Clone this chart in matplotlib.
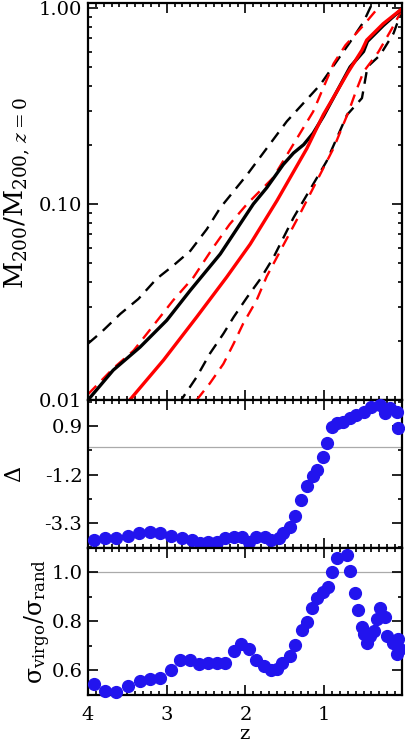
import numpy as np
import matplotlib
matplotlib.use('Agg')
import matplotlib.pyplot as plt
from matplotlib.ticker import FixedLocator, MultipleLocator, FuncFormatter, NullFormatter

plt.rcParams['font.family'] = ['DejaVu Serif']
plt.rcParams['mathtext.fontset'] = 'dejavuserif'
plt.rcParams['font.size'] = 14

# --- top panel: mass growth histories (z, M200/M200,z=0) ---
z_blk = [4.0, 3.68, 3.34, 3.0, 2.70, 2.32, 1.90, 1.73, 1.52, 1.39, 1.26, 1.14, 1.01, 0.67, 0.50, 0.45, 0.25, 0.0]
m_blk = [0.0100, 0.0142, 0.0186, 0.0255, 0.0363, 0.0556, 0.100, 0.121, 0.159, 0.182, 0.201, 0.230, 0.280, 0.501, 0.600, 0.676, 0.813, 1.0]

z_red = [3.47, 3.04, 2.62, 2.24, 1.94, 1.60, 1.22, 1.01, 0.925, 0.70, 0.52, 0.46, 0.25, 0.0]
m_red = [0.0100, 0.0160, 0.0265, 0.0423, 0.0624, 0.104, 0.192, 0.286, 0.327, 0.468, 0.610, 0.686, 0.832, 1.0]

z_blk_hi = [4.0, 3.83, 3.59, 3.36, 3.13, 2.92, 2.70, 2.49, 2.32, 1.98, 1.475, 1.05, 0.67, 0.50, 0.40]
m_blk_hi = [0.0194, 0.0222, 0.0275, 0.0328, 0.0415, 0.0484, 0.0577, 0.0745, 0.0957, 0.141, 0.264, 0.406, 0.671, 0.849, 1.035]

z_red_hi = [4.0, 3.68, 3.42, 3.17, 2.92, 2.66, 2.41, 2.20, 1.98, 1.65, 1.14, 0.88, 0.73, 0.50, 0.29]
m_red_hi = [0.0107, 0.0145, 0.0179, 0.0240, 0.0322, 0.0423, 0.0600, 0.0789, 0.100, 0.136, 0.296, 0.521, 0.646, 0.817, 1.03]

z_blk_lo = [2.85, 2.62, 2.45, 2.28, 2.15, 1.98, 1.81, 1.645, 1.39, 0.97, 0.71, 0.52, 0.45, 0.29, 0.12, 0.0]
m_blk_lo = [0.00955, 0.0131, 0.0173, 0.0218, 0.0265, 0.0334, 0.0415, 0.0533, 0.0851, 0.165, 0.285, 0.347, 0.501, 0.575, 0.741, 1.0]

z_red_lo = [2.62, 2.45, 2.28, 2.15, 2.03, 1.86, 1.73, 1.31, 0.88, 0.69, 0.59, 0.50, 0.31, 0.14, 0.0]
m_red_lo = [0.0100, 0.0122, 0.0153, 0.0194, 0.0245, 0.0322, 0.0427, 0.0887, 0.193, 0.296, 0.382, 0.473, 0.598, 0.785, 1.0]

# --- middle panel: Delta ---
z_delta = [3.93, 3.78, 3.64, 3.49, 3.35, 3.21, 3.08, 2.95, 2.81, 2.68, 2.58, 2.47, 2.36, 2.26,
           2.15, 2.05, 1.96, 1.86, 1.75, 1.67, 1.58, 1.52, 1.44, 1.37, 1.29, 1.22, 1.14, 1.09,
           1.02, 0.96, 0.90, 0.84, 0.76, 0.67, 0.59, 0.50, 0.40, 0.29, 0.23, 0.16, 0.08, 0.06]
delta = [-4.04, -3.96, -3.96, -3.86, -3.75, -3.68, -3.72, -3.86, -3.96, -4.04, -4.18, -4.11, -4.11, -3.96,
         -3.89, -3.89, -4.13, -3.89, -3.92, -4.04, -3.96, -3.75, -3.46, -3.00, -2.30, -1.70, -1.27, -1.00,
         -0.43, 0.18, 0.85, 1.05, 1.09, 1.23, 1.38, 1.52, 1.74, 1.81, 1.45, 1.67, 1.52, 0.80]

# --- bottom panel: sigma ratio ---
z_sig = [3.92, 3.78, 3.64, 3.49, 3.34, 3.21, 3.08, 2.95, 2.83, 2.70, 2.59, 2.47, 2.36, 2.26,
         2.15, 2.06, 1.95, 1.86, 1.76, 1.68, 1.60, 1.53, 1.43, 1.37, 1.28, 1.22, 1.15, 1.09,
         1.01, 0.95, 0.90, 0.84, 0.71, 0.67, 0.61, 0.57, 0.52, 0.50, 0.46, 0.42, 0.37, 0.33,
         0.29, 0.23, 0.20, 0.12, 0.08, 0.06, 0.04]
sig = [0.543, 0.516, 0.512, 0.536, 0.557, 0.566, 0.570, 0.601, 0.642, 0.642, 0.625, 0.632, 0.629, 0.632,
       0.679, 0.710, 0.686, 0.642, 0.618, 0.601, 0.607, 0.632, 0.659, 0.706, 0.765, 0.797, 0.855, 0.897,
       0.920, 0.940, 1.000, 1.060, 1.073, 1.005, 0.918, 0.847, 0.779, 0.748, 0.714, 0.740, 0.762, 0.812,
       0.853, 0.820, 0.741, 0.714, 0.666, 0.727, 0.686]

blue = '#2214ee'

fig = plt.figure(figsize=(4.05, 7.48), dpi=100)
L, W = 0.2173, 0.7746
ax1 = fig.add_axes([L, 0.4652, W, 0.5307])
ax2 = fig.add_axes([L, 0.2674, W, 0.1979])
ax3 = fig.add_axes([L, 0.0709, W, 0.1965])

dash = (0, (5, 3.3))
ax1.plot(z_blk_hi, m_blk_hi, color='k', lw=1.7, ls=dash)
ax1.plot(z_blk_lo, m_blk_lo, color='k', lw=1.7, ls=dash)
ax1.plot(z_red_hi, m_red_hi, color='#ff0000', lw=1.7, ls=dash)
ax1.plot(z_red_lo, m_red_lo, color='#ff0000', lw=1.7, ls=dash)
ax1.plot(z_blk, m_blk, color='k', lw=2.4)
ax1.plot(z_red, m_red, color='#ff0000', lw=2.4)
ax1.set_yscale('log')
ax1.set_ylim(0.01, 1.06)
ax1.yaxis.set_major_locator(FixedLocator([0.01, 0.1, 1.0]))
ax1.yaxis.set_major_formatter(FuncFormatter(lambda v, p: '%.2f' % v))
ax1.yaxis.set_minor_locator(FixedLocator([k * 10.0**e for e in (-2, -1) for k in range(2, 10)]))
ax1.yaxis.set_minor_formatter(NullFormatter())
ax1.set_ylabel('M$_{200}$/M$_{200,\\,z=0}$', fontsize=19)
ax1.yaxis.set_label_coords(-0.18, 0.52)

ax2.axhline(0.0, color='#aaaaaa', lw=0.9, zorder=1)
ax2.plot(z_delta, delta, 'o', color=blue, ms=8.5, mec=blue, clip_on=False, zorder=5)
ax2.set_ylim(-4.38, 2.03)
ax2.yaxis.set_major_locator(FixedLocator([-3.3, -1.2, 0.9]))
ax2.yaxis.set_minor_locator(FixedLocator([-4.35, -2.25, -0.15, 1.95]))
ax2.yaxis.set_major_formatter(FuncFormatter(lambda v, p: '%.1f' % v))
ax2.set_ylabel('Δ', fontsize=16)
ax2.yaxis.set_label_coords(-0.2, 0.5)

ax3.axhline(1.0, color='#aaaaaa', lw=0.9, zorder=1)
ax3.plot(z_sig, sig, 'o', color=blue, ms=8.5, mec=blue, clip_on=False, zorder=5)
ax3.set_ylim(0.5, 1.1)
ax3.yaxis.set_major_locator(FixedLocator([0.6, 0.8, 1.0]))
ax3.yaxis.set_minor_locator(FixedLocator([0.5, 0.7, 0.9, 1.1]))
ax3.yaxis.set_major_formatter(FuncFormatter(lambda v, p: '%.1f' % v))
ax3.set_ylabel('σ$_{\\rm virgo}$/σ$_{\\rm rand}$', fontsize=17)
ax3.yaxis.set_label_coords(-0.11, 0.5)
ax3.set_xlabel('z', labelpad=1, fontsize=14)

for ax in (ax1, ax2, ax3):
    ax.set_xlim(4, 0.015)
    ax.xaxis.set_major_locator(FixedLocator([4, 3, 2, 1]))
    ax.xaxis.set_minor_locator(MultipleLocator(0.1))
    ax.tick_params(which='both', direction='in', top=True, right=True, width=1.2)
    ax.tick_params(which='major', length=7)
    ax.tick_params(which='minor', length=3)
    ax.tick_params(axis='y', pad=4)
    for s in ax.spines.values():
        s.set_linewidth(1.6)
        s.set_zorder(3)
for ax in (ax1, ax2):
    ax.set_xticklabels([])
ax3.tick_params(axis='x', pad=8)

fig.savefig('out.png', dpi=100)
